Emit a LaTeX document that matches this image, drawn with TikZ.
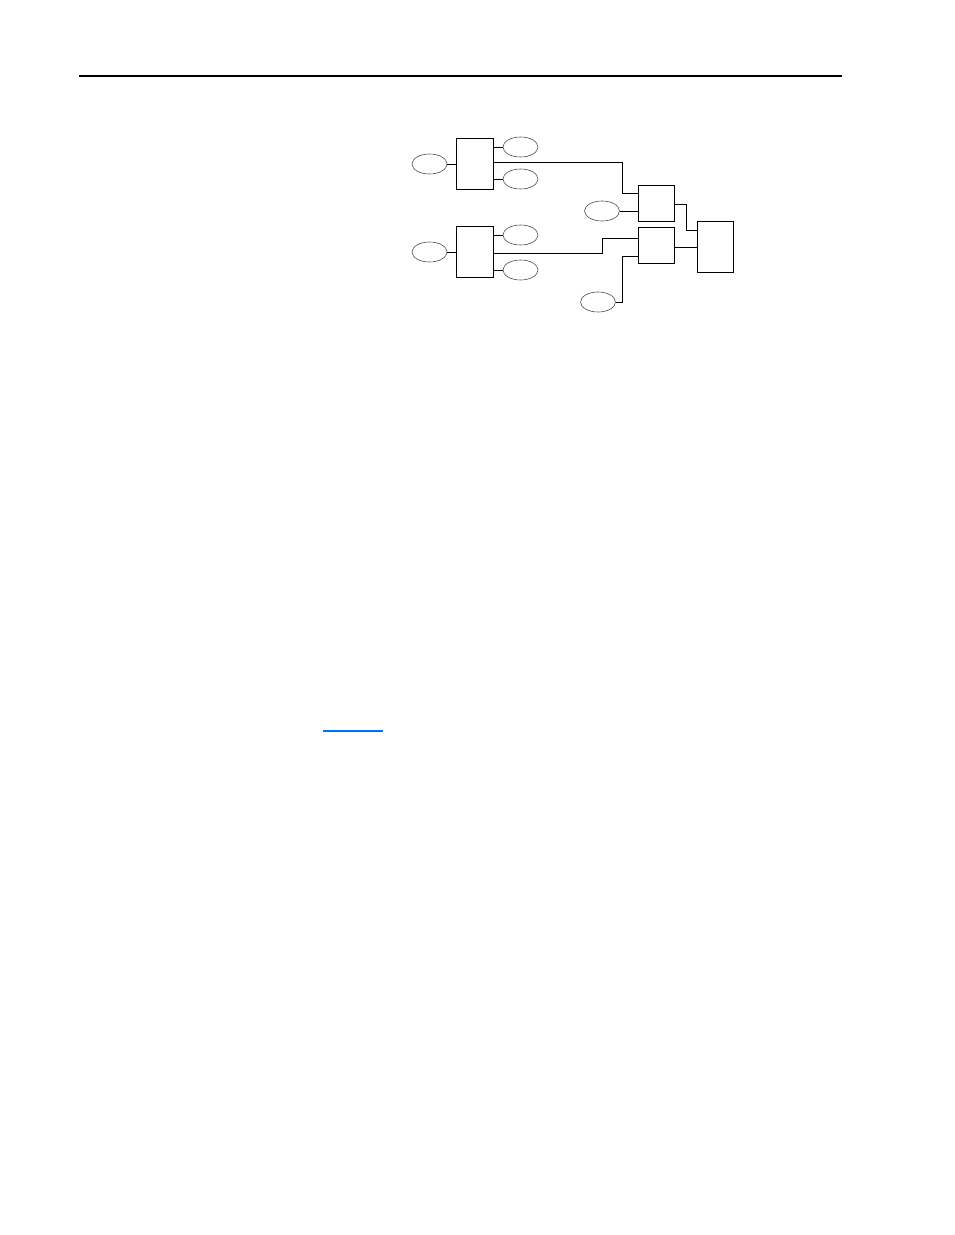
\documentclass[tikz,border=0pt]{standalone}
\usepackage{xcolor}
\usetikzlibrary{shapes.geometric}
\definecolor{linkblue}{RGB}{0,110,255}

\begin{document}
\begin{tikzpicture}[
    x=1pt, y=-1pt,
    unit/.style={draw, line width=0.9pt, inner sep=0pt, minimum width=37pt, minimum height=51pt},
    smallunit/.style={draw, line width=0.9pt, inner sep=0pt, minimum width=36pt, minimum height=36pt},
    port/.style={ellipse, draw=black!70, line width=0.6pt, inner sep=0pt, minimum width=35pt, minimum height=20pt},
    wire/.style={line width=0.8pt}]
    \useasboundingbox (0,0) rectangle (954,1235);
    % page rule
    \draw[line width=2.5pt] (79,76) -- (842,76);
    % left units
    \node[unit] (u1) at (474.5,163.5) {};
    \node[unit] (u2) at (474.5,251.5) {};
    \node[port] (p1) at (429.5,164) {};
    \node[port] (p2) at (520.5,147) {};
    \node[port] (p3) at (520.5,179) {};
    \node[port] (p4) at (429.5,252) {};
    \node[port] (p5) at (520.5,235) {};
    \node[port] (p6) at (520.5,270) {};
    % middle units
    \node[smallunit] (m1) at (656,203) {};
    \node[smallunit] (m2) at (656,245.5) {};
    \node[port] (p7) at (602,211) {};
    \node[port] (p8) at (598,302) {};
    % right unit
    \node[unit, minimum width=36pt] (r1) at (715,246.5) {};
    % jog points
    \coordinate (j1) at (622,193);
    \coordinate (j2) at (602,238);
    \coordinate (j3) at (622,256);
    \coordinate (j4) at (686,230);
    % connectors
    \draw[wire] (p1.east) -- (u1.west |- p1.east);
    \draw[wire] (u1.east |- p2.west) -- (p2.west);
    \draw[wire] (u1.east |- p3.west) -- (p3.west);
    \draw[wire] (p4.east) -- (u2.west |- p4.east);
    \draw[wire] (u2.east |- p5.west) -- (p5.west);
    \draw[wire] (u2.east |- p6.west) -- (p6.west);
    \draw[wire] (u1.east |- 0,162) -- (j1 |- 0,162) -- (j1) -- (m1.west |- j1);
    \draw[wire] (u2.east |- 0,253) -- (j2 |- 0,253) -- (j2) -- (m2.west |- j2);
    \draw[wire] (p7.east) -- (m1.west |- p7.east);
    \draw[wire] (p8.east) -- (j3 |- p8.east) -- (j3) -- (m2.west |- j3);
    \draw[wire] (m1.east |- 0,204) -- (j4 |- 0,204) -- (j4) -- (r1.west |- j4);
    \draw[wire] (m2.east |- 0,247) -- (r1.west |- 0,247);
    % link
    \draw[linkblue, line width=1.6pt] (323,731) -- (383,731);
\end{tikzpicture}
\end{document}
